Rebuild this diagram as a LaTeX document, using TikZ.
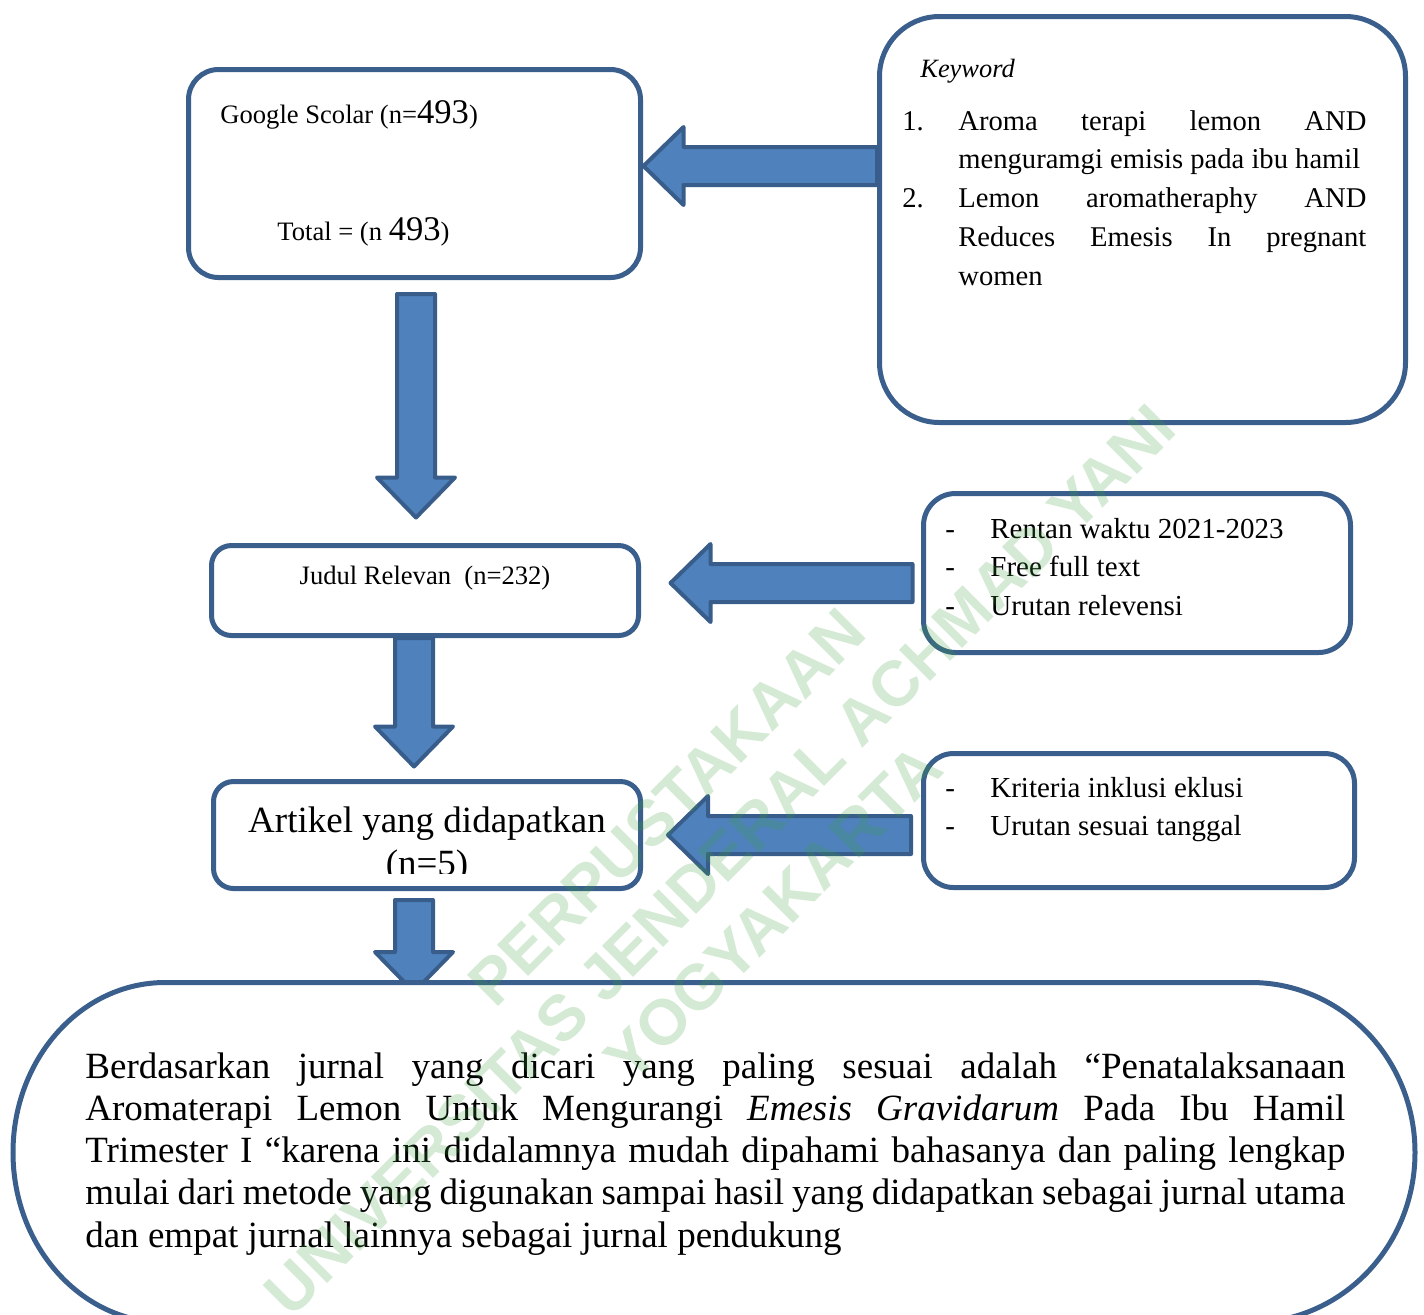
\documentclass[tikz,border=0pt]{standalone}
\usepackage{fontspec}
\setmainfont{Liberation Serif}
\newfontfamily\stampfont{Liberation Sans}
\usepackage{tikz}
\usepackage{xcolor}
\usetikzlibrary{calc}
\definecolor{boxline}{RGB}{58,95,140}
\definecolor{arrowline}{RGB}{56,93,138}
\definecolor{arrowfill}{RGB}{79,129,189}
\definecolor{stampgreen}{RGB}{60,160,60}
\tikzset{
    flow-box/.style = {draw=boxline, fill=white, line width=2.5pt, rectangle, inner sep=0pt},
    result-outline/.style = {draw=boxline, fill=white, line width=2.5pt},
    block-arrow/.style = {draw=arrowline, fill=arrowfill, line width=2pt, line join=round},
    body-text/.style = {inner sep=0pt, anchor=base west},
    small-text/.style = {font=\fontsize{13.3pt}{16pt}\selectfont},
    list-text/.style = {font=\fontsize{14.5pt}{19.45pt}\selectfont},
    big-text/.style = {font=\fontsize{18.5pt}{21.15pt}\selectfont},
}
\newcommand{\leftblock}[2]{%
  \path[block-arrow] let \p1=(#1), \p2=(#2) in
    (\x1,\y2+9.5pt) -- (\x2+20pt,\y2+9.5pt) -- (\x2+20pt,\y2+19.5pt) -- (\x2,\y2)
    -- (\x2+20pt,\y2-19.5pt) -- (\x2+20pt,\y2-9.5pt) -- (\x1,\y2-9.5pt) -- cycle;}
\newcommand{\downblock}[2]{%
  \path[block-arrow] let \p1=(#1), \p2=(#2) in
    (\x2-9.5pt,\y1) -- (\x2-9.5pt,\y2+20pt) -- (\x2-19.5pt,\y2+20pt) -- (\x2,\y2)
    -- (\x2+19.5pt,\y2+20pt) -- (\x2+9.5pt,\y2+20pt) -- (\x2+9.5pt,\y1) -- cycle;}
\newcommand{\bignum}[1]{{\fontsize{17.3pt}{20pt}\selectfont #1}}

\begin{document}
\begin{tikzpicture}[x=0.5pt, y=-0.5pt]
\useasboundingbox (0,0) rectangle (1424,1314);

\node[flow-box, rounded corners=15pt, minimum width=226pt, minimum height=104pt] (gs) at (414.5,173.5) {};
\node[flow-box, rounded corners=30pt, minimum width=263pt, minimum height=203pt] (kw) at (1142.5,219.5) {};
\node[flow-box, rounded corners=10pt, minimum width=213.5pt, minimum height=45pt] (jr) at (425,590.5) {};
\node[flow-box, rounded corners=16pt, minimum width=213.5pt, minimum height=79.5pt] (crit1) at (1137,573) {};
\node[flow-box, rounded corners=10pt, minimum width=213.5pt, minimum height=53.5pt] (artikel) at (427,835) {};
\node[flow-box, rounded corners=15pt, minimum width=215.5pt, minimum height=67pt] (crit2) at (1139,820.5) {};

\node[body-text, small-text] (gs-line) at (220,123) {Google Scolar (n=\bignum{493})};
\node[body-text, small-text] (gs-total) at (277,240) {Total = (n \bignum{493})};

\node[body-text, font=\fontsize{13.2pt}{16pt}\selectfont\itshape] (kw-title) at (920,77) {Keyword};
\node[body-text, font=\fontsize{14.3pt}{19.45pt}\selectfont] (kw-list) at (902,130) {\parbox[t]{232pt}{\hyphenpenalty=10000 \exhyphenpenalty=10000 \tolerance=10000
    \hangindent=28pt\hangafter=1\noindent\makebox[28pt][l]{1.}Aroma terapi lemon AND\linebreak menguramgi emisis pada ibu hamil\par
    \hangindent=28pt\hangafter=1\noindent\makebox[28pt][l]{2.}Lemon aromatheraphy AND\linebreak Reduces Emesis In pregnant\linebreak women}};

\node[small-text, inner sep=0pt, anchor=base] (jr-text) at (425,584) {Judul Relevan~~(n=232)};

\node[body-text, list-text] (crit1-list) at (945,538) {\parbox[t]{200pt}{%
    \makebox[22.5pt][l]{-}Rentan waktu 2021-2023\\
    \makebox[22.5pt][l]{-}Free full text\\
    \makebox[22.5pt][l]{-}Urutan relevensi}};
\node[body-text, list-text] (crit2-list) at (945,797) {\parbox[t]{200pt}{%
    \makebox[22.5pt][l]{-}Kriteria inklusi eklusi\\
    \makebox[22.5pt][l]{-}Urutan sesuai tanggal}};

\node[big-text, inner sep=0pt, anchor=base] (artikel-text) at (427,832) {Artikel yang didapatkan};
\begin{scope}
\clip (211,845) rectangle (643,873);
\node[big-text, inner sep=0pt, anchor=base] (artikel-n) at (427,875) {(n=5)};
\end{scope}

\coordinate (tip-gs) at ($(gs.east)+(0.5,-7.5)$);
\coordinate (tip-jr) at (416,517.5);
\coordinate (tip-jr-side) at ($(jr.east)+(29.5,-7.5)$);
\coordinate (tip-art) at ($(artikel.north)+(-13,-12.5)$);
\coordinate (tip-art-side) at ($(artikel.east)+(25,0)$);
\coordinate (tip-result) at (414,992);

\leftblock{kw.west}{tip-gs}
\downblock{$(gs.south)+(0,14)$}{tip-jr}
\leftblock{$(crit1.west)+(-8.5,0)$}{tip-jr-side}
\downblock{jr.south}{tip-art}
\leftblock{$(crit2.west)+(-10,0)$}{tip-art-side}
\downblock{$(artikel.south)+(0,9)$}{tip-result}

\draw[result-outline] (165,982.5) -- (1251,982.5)
    arc[start angle=-90, end angle=90, x radius=164, y radius=170] -- (165,1322.5)
    arc[start angle=90, end angle=270, x radius=152, y radius=170] -- cycle;

\node[body-text, big-text] (result-text) at (85,1078) {\parbox[t]{630pt}{\hyphenpenalty=10000
    Berdasarkan jurnal yang dicari yang paling sesuai adalah “Penatalaksanaan\linebreak
    Aromaterapi Lemon Untuk Mengurangi \textit{Emesis Gravidarum} Pada Ibu Hamil\linebreak
    Trimester I “karena ini didalamnya mudah dipahami bahasanya dan paling lengkap\linebreak
    mulai dari metode yang digunakan sampai hasil yang didapatkan sebagai jurnal utama\linebreak
    dan empat jurnal lainnya sebagai jurnal pendukung}};

\node[rotate=45, align=center, text=stampgreen, text opacity=0.22,
      font=\stampfont\bfseries\fontsize{32pt}{37.5pt}\selectfont] (stamp) at (720,860)
    {PERPUSTAKAAN\\UNIVERSITAS JENDERAL ACHMAD YANI\\YOGYAKARTA};
\end{tikzpicture}
\end{document}
